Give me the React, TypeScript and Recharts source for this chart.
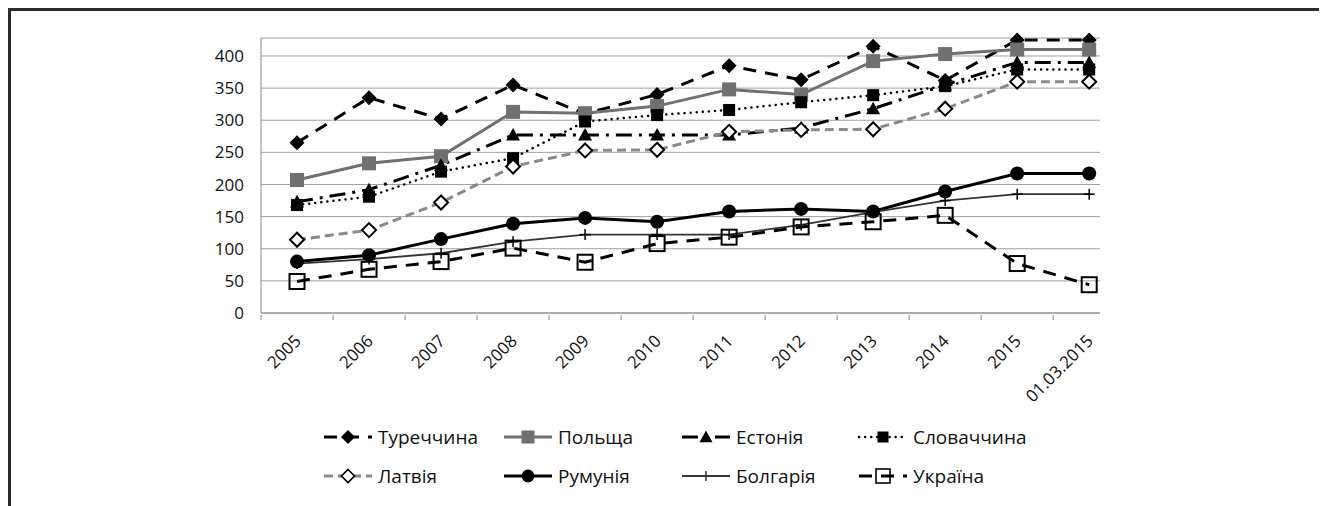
import React from "react";
import { LineChart, Line, XAxis, YAxis, CartesianGrid } from "recharts";

const categories = ["2005", "2006", "2007", "2008", "2009", "2010", "2011", "2012", "2013", "2014", "2015", "01.03.2015"];

const turkey = [265, 335, 302, 355, 310, 340, 385, 363, 415, 362, 425, 425];
const poland = [207, 233, 244, 313, 311, 322, 348, 340, 392, 403, 410, 410];
const estonia = [173, 192, 230, 277, 277, 277, 277, 288, 318, 355, 390, 390];
const slovakia = [168, 181, 220, 241, 298, 308, 316, 328, 339, 353, 379, 379];
const latvia = [114, 129, 172, 228, 253, 254, 282, 285, 286, 318, 360, 360];
const romania = [80, 90, 115, 139, 148, 142, 158, 162, 158, 189, 217, 217];
const bulgaria = [77, 84, 93, 111, 122, 122, 122, 137, 157, 175, 185, 185];
const ukraine = [49, 68, 80, 101, 79, 108, 118, 134, 142, 152, 77, 44];

const yTicks = [0, 50, 100, 150, 200, 250, 300, 350, 400];

type Shape = "diamond" | "square" | "triangle" | "circle" | "plus";

interface Series {
  key: string;
  name: string;
  values: number[];
  stroke: string;
  width: number;
  dash?: string;
  shape: Shape;
  fill: string;
  size: number;
}

const series: Series[] = [
  { key: "turkey", name: "Туреччина", values: turkey, stroke: "#000", width: 3, dash: "13 9", shape: "diamond", fill: "#000", size: 15 },
  { key: "poland", name: "Польща", values: poland, stroke: "#707070", width: 3, shape: "square", fill: "#707070", size: 14 },
  { key: "estonia", name: "Естонія", values: estonia, stroke: "#000", width: 3, dash: "16 7 3 7", shape: "triangle", fill: "#000", size: 14 },
  { key: "slovakia", name: "Словаччина", values: slovakia, stroke: "#000", width: 2.5, dash: "0.1 6", shape: "square", fill: "#000", size: 12 },
  { key: "latvia", name: "Латвія", values: latvia, stroke: "#8a8a8a", width: 3, dash: "9 5", shape: "diamond", fill: "#fff", size: 14 },
  { key: "romania", name: "Румунія", values: romania, stroke: "#000", width: 3, shape: "circle", fill: "#000", size: 14 },
  { key: "bulgaria", name: "Болгарія", values: bulgaria, stroke: "#333", width: 1.8, shape: "plus", fill: "none", size: 11 },
  { key: "ukraine", name: "Україна", values: ukraine, stroke: "#000", width: 3, dash: "13 9", shape: "square", fill: "none", size: 15 },
];

const rows = categories.map((label, i) => {
  const row: Record<string, number | string> = { i, label };
  series.forEach((s) => (row[s.key] = s.values[i]));
  return row;
});

const CHART_W = 1319;
const CHART_H = 498;
const MARGIN = { top: 30, right: 227, left: 0, bottom: 133 };
const Y_AXIS_W = 253;
const X_DOMAIN: [number, number] = [-0.5, 11.15];
const PLOT_W = CHART_W - MARGIN.left - MARGIN.right - Y_AXIS_W;
const HALF_BAND = PLOT_W / (X_DOMAIN[1] - X_DOMAIN[0]) / 2;
const FONT = "'Open Sans', 'Noto Sans', sans-serif";

function Marker({ shape, cx, cy, size, stroke, fill, strokeWidth }: any) {
  const h = size / 2;
  if (cx == null || cy == null) return null;
  const sw = strokeWidth ?? (fill === "#000" || fill === "#707070" ? 0 : 2);
  switch (shape) {
    case "diamond":
      return (
        <polygon
          points={`${cx},${cy - h} ${cx + h},${cy} ${cx},${cy + h} ${cx - h},${cy}`}
          fill={fill}
          stroke={stroke}
          strokeWidth={sw}
        />
      );
    case "square":
      return <rect x={cx - h} y={cy - h} width={size} height={size} fill={fill} stroke={stroke} strokeWidth={sw} />;
    case "triangle":
      return (
        <polygon points={`${cx},${cy - h} ${cx + h},${cy + h * 0.8} ${cx - h},${cy + h * 0.8}`} fill={fill} stroke="none" />
      );
    case "circle":
      return <circle cx={cx} cy={cy} r={h} fill={fill} stroke="none" />;
    case "plus":
      return (
        <g stroke={stroke} strokeWidth={1.5}>
          <line x1={cx - h} y1={cy} x2={cx + h} y2={cy} />
          <line x1={cx} y1={cy - h} x2={cx} y2={cy + h} />
        </g>
      );
    default:
      return null;
  }
}

function XTick({ x, y, payload }: any) {
  return (
    <g>
      <line x1={x - HALF_BAND} y1={y} x2={x - HALF_BAND} y2={y + 5} stroke="#888" strokeWidth={1} />
      <text
        transform={`translate(${x + 5},${y + 27}) rotate(-45)`}
        textAnchor="end"
        fontSize={17}
        fontFamily={FONT}
        fill="#111"
      >
        {categories[payload.value]}
      </text>
    </g>
  );
}

function LegendIcon({ s }: { s: Series }) {
  return (
    <svg width={52} height={20} style={{ display: "block" }}>
      <line x1={2} y1={10} x2={50} y2={10} stroke={s.stroke} strokeWidth={s.width} strokeDasharray={s.dash} strokeLinecap={s.key === "slovakia" ? "round" : "butt"} />
      <Marker shape={s.shape} cx={26} cy={10} size={s.size - 1} stroke={s.stroke === "#8a8a8a" ? "#000" : s.stroke} fill={s.fill} strokeWidth={s.fill === "#fff" || s.fill === "none" ? 1.6 : undefined} />
    </svg>
  );
}

const legendCols = [314, 494, 672, 849];
const legendRows = [429, 468];

export default function App() {
  return (
    <div style={{ position: "relative", width: CHART_W, height: CHART_H, fontFamily: FONT }}>
      <div
        style={{
          position: "absolute",
          inset: 0,
          borderTop: "3px solid #2b2b2b",
          borderLeft: "3px solid #2b2b2b",
          pointerEvents: "none",
        }}
      />
      <div style={{ position: "absolute", left: 0, top: 0 }}>
        <LineChart width={CHART_W} height={CHART_H} data={rows} margin={MARGIN}>
          <CartesianGrid vertical={false} stroke="#a0a0a0" strokeWidth={1} />
          <XAxis
            dataKey="i"
            type="number"
            domain={X_DOMAIN}
            ticks={categories.map((_, i) => i)}
            interval={0}
            height={60}
            tickSize={0}
            tickLine={false}
            axisLine={{ stroke: "#888" }}
            tick={<XTick />}
          />
          <YAxis
            domain={[0, 428]}
            ticks={yTicks}
            interval={0}
            width={Y_AXIS_W}
            tickSize={0}
            tickMargin={17}
            tickLine={false}
            axisLine={{ stroke: "#888" }}
            tick={{ fontSize: 17, fontFamily: FONT, fill: "#111" }}
          />
          {series.map((s) => (
            <Line
              key={s.key}
              dataKey={s.key}
              name={s.name}
              type="linear"
              stroke={s.stroke}
              strokeWidth={s.width}
              strokeDasharray={s.dash}
              strokeLinecap={s.key === "slovakia" ? "round" : "butt"}
              isAnimationActive={false}
              dot={(p: any) => (
                <Marker
                  key={`${s.key}-${p.index}`}
                  shape={s.shape}
                  cx={p.cx}
                  cy={p.cy}
                  size={s.size}
                  stroke={s.fill === "#fff" || s.fill === "none" ? "#000" : s.stroke}
                  fill={s.fill}
                />
              )}
              activeDot={false}
            />
          ))}
        </LineChart>
      </div>
      {series.map((s, idx) => (
        <div
          key={s.key}
          style={{
            position: "absolute",
            left: legendCols[idx % 4],
            top: legendRows[Math.floor(idx / 4)] - 12,
            height: 24,
            display: "flex",
            alignItems: "center",
            gap: 4,
            fontSize: 19,
            color: "#111",
            whiteSpace: "nowrap",
          }}
        >
          <LegendIcon s={s} />
          <span>{s.name}</span>
        </div>
      ))}
    </div>
  );
}
